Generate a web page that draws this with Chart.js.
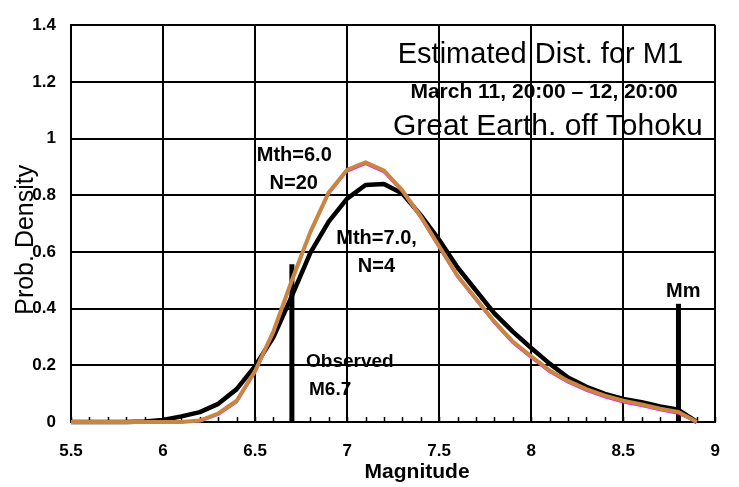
<!DOCTYPE html>
<html>
<head>
<meta charset="utf-8">
<script src="https://cdn.jsdelivr.net/npm/chart.js@4"></script>
<style>
  html, body { margin: 0; padding: 0; background: #fff; }
</style>
</head>
<body>
<canvas id="chart" width="739" height="487"></canvas>
<script>
// magnitude grid (0.1 steps)
const magnitudes = [5.5, 5.6, 5.7, 5.8, 5.9, 6.0, 6.1, 6.2, 6.3, 6.4, 6.5, 6.6, 6.7, 6.8, 6.9, 7.0, 7.1, 7.2,
  7.3, 7.4, 7.5, 7.6, 7.7, 7.8, 7.9, 8.0, 8.1, 8.2, 8.3, 8.4, 8.5, 8.6, 8.7, 8.8, 8.9];

// Mth=6.0, N=20 (orange, with magenta companion underneath)
const densityMth6 = [0, 0, 0, 0, 0, 0, 0, 0.005, 0.03, 0.075, 0.18, 0.32, 0.5, 0.67, 0.81, 0.89, 0.916, 0.887,
  0.817, 0.725, 0.62, 0.516, 0.435, 0.354, 0.284, 0.232, 0.182, 0.145, 0.116, 0.093, 0.075, 0.062, 0.047, 0.035, 0];
const densityMth6b = [0, 0, 0, 0, 0, 0, 0, 0.002, 0.025, 0.069, 0.173, 0.313, 0.493, 0.664, 0.804, 0.884, 0.91, 0.881,
  0.811, 0.719, 0.614, 0.51, 0.429, 0.348, 0.278, 0.226, 0.176, 0.139, 0.11, 0.087, 0.069, 0.056, 0.041, 0.029, 0];

// Mth=7.0, N=4 (black)
const densityMth7 = [0, 0, 0, 0, 0.002, 0.007, 0.02, 0.035, 0.064, 0.116, 0.197, 0.3, 0.445, 0.597, 0.707, 0.788, 0.836, 0.84,
  0.806, 0.73, 0.643, 0.545, 0.464, 0.383, 0.319, 0.261, 0.206, 0.157, 0.124, 0.099, 0.081, 0.07, 0.055, 0.043, 0];

// vertical markers
const observedMag = 6.7;
const observedTop = 0.557;
const maxMag = 8.8;
const maxTop = 0.417;

const yTicks = [0, 0.2, 0.4, 0.6, 0.8, 1, 1.2, 1.4];

const sans = "'Liberation Sans', Arial, sans-serif";

// text placed in data coordinates
const notes = [
  { text: "Estimated Dist. for M1", x: 8.05, y: 1.265, font: "29px " + sans, align: "center" },
  { text: "March 11, 20:00 \u2013 12, 20:00", x: 8.07, y: 1.143, font: "bold 21px " + sans, align: "center" },
  { text: "Great Earth. off Tohoku", x: 8.09, y: 1.014, font: "30px " + sans, align: "center" },
  { text: "Mth=6.0", x: 6.713, y: 0.921, font: "bold 20px " + sans, align: "center" },
  { text: "N=20", x: 6.71, y: 0.823, font: "bold 20px " + sans, align: "center" },
  { text: "Mth=7.0,", x: 7.16, y: 0.629, font: "bold 20px " + sans, align: "center" },
  { text: "N=4", x: 7.159, y: 0.528, font: "bold 20px " + sans, align: "center" },
  { text: "Observed", x: 6.777, y: 0.1945, font: "bold 19px " + sans, align: "left" },
  { text: "M6.7", x: 6.793, y: 0.094, font: "bold 19px " + sans, align: "left" },
  { text: "Mm", x: 8.826, y: 0.441, font: "bold 20px " + sans, align: "center" },
  { text: "Magnitude", x: 7.38, y: -0.198, font: "bold 21px " + sans, align: "center" },
  { text: "Prob. Density", x: 5.254, y: 0.643, font: "25px " + sans, align: "center", rotate: true }
];

const toPoints = (ys) => magnitudes.map((m, i) => ({ x: m, y: ys[i] }));
const isHalf = (v) => Math.abs(v * 2 - Math.round(v * 2)) < 1e-6;

const minorTicks = {
  id: "minorTicks",
  beforeDatasetsDraw(chart) {
    const { ctx, chartArea } = chart;
    const xs = chart.scales.x;
    ctx.save();
    ctx.strokeStyle = "#000";
    ctx.lineWidth = 1.5;
    ctx.beginPath();
    xs.ticks.forEach(t => {
      const px = Math.round(xs.getPixelForValue(t.value)) + 0.5;
      ctx.moveTo(px, chartArea.bottom);
      ctx.lineTo(px, chartArea.bottom - 5);
    });
    ctx.stroke();
    ctx.restore();
  }
};

const notesPlugin = {
  id: "notes",
  afterDraw(chart) {
    const { ctx } = chart;
    const xs = chart.scales.x, ys = chart.scales.y;
    ctx.save();
    ctx.fillStyle = "#000";
    notes.forEach(n => {
      const px = xs.getPixelForValue(n.x), py = ys.getPixelForValue(n.y);
      ctx.font = n.font;
      ctx.textAlign = n.align;
      if (n.rotate) {
        ctx.save();
        ctx.translate(px, py);
        ctx.rotate(-Math.PI / 2);
        ctx.textBaseline = "middle";
        ctx.fillText(n.text, 0, 0);
        ctx.restore();
      } else {
        ctx.textBaseline = "alphabetic";
        ctx.fillText(n.text, px, py);
      }
    });
    ctx.restore();
  }
};

// Chart.js paints dataset 0 last (on top), so the order here is top -> bottom
new Chart(document.getElementById("chart"), {
  type: "line",
  data: {
    datasets: [
      {
        label: "Mth=6.0, N=20",
        data: toPoints(densityMth6),
        borderColor: "#c98642",
        borderWidth: 4
      },
      {
        label: "Mth=6.0, N=20 (b)",
        data: toPoints(densityMth6b),
        borderColor: "#ff00ff",
        borderWidth: 2
      },
      {
        label: "Mth=7.0, N=4",
        data: toPoints(densityMth7),
        borderColor: "#000",
        borderWidth: 4.5
      },
      {
        label: "Observed",
        data: [{ x: observedMag, y: 0 }, { x: observedMag, y: observedTop }],
        borderColor: "#000",
        borderWidth: 5,
        borderCapStyle: "butt"
      },
      {
        label: "Mm",
        data: [{ x: maxMag, y: 0 }, { x: maxMag, y: maxTop }],
        borderColor: "#000",
        borderWidth: 5,
        borderCapStyle: "butt"
      }
    ]
  },
  options: {
    responsive: false,
    animation: false,
    clip: false,
    layout: { padding: { top: 19, right: 13, left: 0, bottom: 0 } },
    elements: {
      point: { radius: 0 },
      line: { tension: 0, borderJoinStyle: "round" }
    },
    plugins: {
      legend: { display: false },
      tooltip: { enabled: false }
    },
    scales: {
      x: {
        type: "linear",
        min: 5.5,
        max: 9,
        afterFit(scale) { scale.height = 65; },
        ticks: {
          stepSize: 0.1,
          autoSkip: false,
          maxRotation: 0,
          padding: 19,
          color: "#000",
          font: { family: sans, size: 17, weight: "bold" },
          callback: (v) => isHalf(v) ? String(Math.round(v * 10) / 10) : ""
        },
        grid: {
          drawTicks: false,
          lineWidth: 2,
          color: (c) => (c.tick && isHalf(c.tick.value)) ? "#000" : "rgba(0,0,0,0)"
        },
        border: { display: true, color: "#000", width: 2 }
      },
      y: {
        min: 0,
        max: 1.4,
        afterFit(scale) { scale.width = 71; },
        afterBuildTicks(scale) { scale.ticks = yTicks.map(v => ({ value: v })); },
        ticks: {
          padding: 15,
          color: "#000",
          font: { family: sans, size: 17, weight: "bold" },
          callback: (v) => String(Math.round(v * 10) / 10)
        },
        grid: { drawTicks: false, lineWidth: 2, color: "#000" },
        border: { display: true, color: "#000", width: 2 }
      }
    }
  },
  plugins: [minorTicks, notesPlugin]
});
</script>
</body>
</html>
